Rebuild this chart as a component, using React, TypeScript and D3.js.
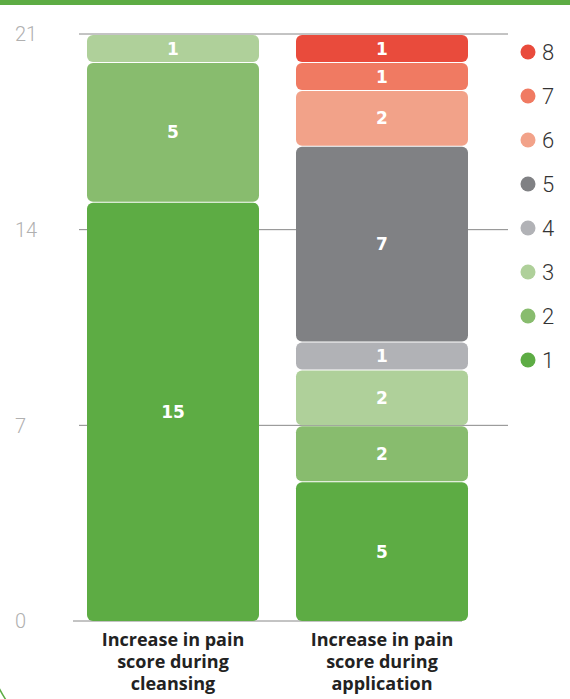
import * as d3 from "d3";
import React from "react";

// categories and stacked values (series 1 at the bottom, series 8 on top)
const categories = [
  ["Increase in pain", "score during", "cleansing"],
  ["Increase in pain", "score during", "application"],
];
const seriesNames = ["1", "2", "3", "4", "5", "6", "7", "8"];
const cleansing = [15, 5, 1, 0, 0, 0, 0, 0];
const application = [5, 2, 2, 1, 7, 2, 1, 1];
const colors = ["#5dac44", "#88bc6e", "#afd09a", "#b1b2b6", "#808184", "#f2a289", "#f07a62", "#e94b3c"];
const yTicks = [0, 7, 14, 21];

const width = 570;
const height = 699;

export default function App() {
  const rows = [cleansing, application];

  const x = d3.scaleBand<number>().domain([0, 1]).range([87, 468]).paddingInner(37 / 209).paddingOuter(0);
  const y = d3.scaleLinear().domain([0, 21]).range([621, 34]);

  const stacked = rows.map((vals) => {
    let acc = 0;
    return vals.map((v, i) => {
      const s = { i, v, y0: acc, y1: acc + v };
      acc += v;
      return s;
    });
  });

  const color = d3.scaleOrdinal<string, string>().domain(seriesNames).range(colors);
  const legendY = d3.scalePoint<string>().domain([...seriesNames].reverse()).range([52, 360]);

  return (
    <div style={{ position: "absolute", left: 0, top: 0 }}>
      <svg width={width} height={height} style={{ display: "block", background: "#fff" }}>
        <rect x={0} y={0} width={width} height={5} fill="#5dac44" />
        <path d="M -2 686 Q 2 694 6 700" fill="none" stroke="#5dac44" strokeWidth={1.5} />

        {/* grid + y labels */}
        {yTicks.map((t) => (
          <g key={t}>
            {t > 0 && <line x1={79} x2={508} y1={y(t)} y2={y(t)} stroke="#888" strokeWidth={1} />}
            <text
              x={15}
              y={y(t)}
              dy="0.36em"
              fontFamily="Roboto, 'Liberation Sans', sans-serif"
              fontWeight={300}
              fontSize={20}
              fill="#b0b0b0"
            >
              {t}
            </text>
          </g>
        ))}
        <line x1={73} x2={462} y1={y(0)} y2={y(0)} stroke="#888" strokeWidth={1} />

        {/* bars */}
        {stacked.map((segs, c) => (
          <g key={c}>
            {segs
              .filter((s) => s.v > 0)
              .map((s) => {
                const top = y(s.y1) + 1;
                const h = y(s.y0) - y(s.y1) - 1;
                return (
                  <g key={s.i}>
                    <rect
                      x={x(c)!}
                      y={top}
                      width={x.bandwidth()}
                      height={h}
                      rx={6}
                      fill={color(seriesNames[s.i])}
                    />
                    <text
                      x={x(c)! + x.bandwidth() / 2}
                      y={top + h / 2}
                      dy="0.36em"
                      textAnchor="middle"
                      fontFamily="'DejaVu Sans', sans-serif"
                      fontWeight="bold"
                      fontSize={17}
                      fill="#fff"
                    >
                      {s.v}
                    </text>
                  </g>
                );
              })}
            <text
              textAnchor="middle"
              fontFamily="'Open Sans', Roboto, sans-serif"
              fontWeight="bold"
              fontSize={18}
              fill="#222"
            >
              {categories[c].map((line, k) => (
                <tspan key={k} x={x(c)! + x.bandwidth() / 2} y={646 + k * 22}>
                  {line}
                </tspan>
              ))}
            </text>
          </g>
        ))}

        {/* legend */}
        {seriesNames.map((n) => (
          <g key={n} transform={`translate(528,${legendY(n)})`}>
            <circle r={7.5} fill={color(n)} />
            <text
              x={14}
              dy="0.36em"
              fontFamily="Roboto, 'Liberation Sans', sans-serif"
              fontWeight={300}
              fontSize={22}
              fill="#333"
            >
              {n}
            </text>
          </g>
        ))}
      </svg>
    </div>
  );
}
